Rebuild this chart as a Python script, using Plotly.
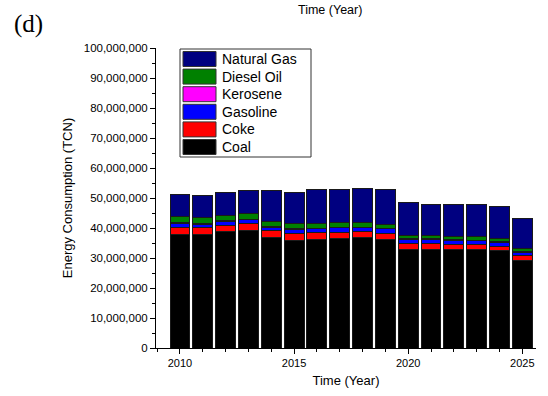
import plotly.graph_objects as go

# ---- data (values in millions of TCN) ----
years = list(range(2010, 2026))
coal = [38.0, 37.7, 38.7, 39.1, 36.8, 35.9, 36.2, 36.5, 36.7, 36.3, 33.0, 33.0, 33.0, 32.8, 32.4, 29.3]
coke = [2.2, 2.4, 2.1, 2.4, 2.3, 2.3, 2.2, 2.1, 2.1, 1.9, 1.8, 1.7, 1.6, 1.6, 1.6, 1.4]
gasoline = [1.4, 1.1, 1.4, 1.2, 1.1, 1.4, 1.3, 1.5, 1.3, 1.6, 1.4, 1.5, 1.4, 1.4, 1.3, 1.3]
kerosene = [0.3, 0.3, 0.2, 0.2, 0.2, 0.2, 0.2, 0.2, 0.2, 0.2, 0.2, 0.2, 0.2, 0.2, 0.2, 0.2]
diesel = [1.8, 1.9, 1.9, 2.0, 1.9, 1.7, 1.7, 1.5, 1.6, 1.3, 1.0, 1.0, 1.0, 1.1, 1.1, 0.9]
natural_gas = [7.5, 7.6, 7.5, 7.5, 10.3, 10.3, 11.1, 11.1, 11.4, 11.5, 11.0, 10.6, 10.8, 10.7, 10.6, 10.1]

series_names = ["Coal", "Coke", "Gasoline", "Kerosene", "Diesel Oil", "Natural Gas"]
series_values = [coal, coke, gasoline, kerosene, diesel, natural_gas]
series_colors = ["#000000", "#FF0000", "#0000FF", "#FF00FF", "#008000", "#000080"]

y_tick_vals = [i * 10_000_000 for i in range(11)]
x_tick_vals = [2010, 2015, 2020, 2025]

W, H = 548, 396
L, R, T, B = 156, 12, 48, 48
PW, PH = W - L - R, H - T - B


def px_x(px):
    return (px - L) / PW


def px_y(py):
    return (H - B - py) / PH


fig = go.Figure()
for name, vals, col in zip(series_names, series_values, series_colors):
    fig.add_trace(go.Bar(
        x=years, y=[v * 1e6 for v in vals], name=name,
        marker=dict(color=col, line=dict(color="#1a1a1a", width=1)),
        showlegend=False,
    ))

font = "Arial, Liberation Sans, sans-serif"

# ---- custom legend (box with wide swatches) ----
shapes = []
annotations = []
box_l, box_r, box_t, box_b = 180, 311, 49, 157
shapes.append(dict(type="rect", xref="paper", yref="paper",
                   x0=px_x(box_l), x1=px_x(box_r), y0=px_y(box_b), y1=px_y(box_t),
                   line=dict(color="#333333", width=1), fillcolor="white", layer="above"))
legend_order = list(reversed(range(len(series_names))))
row_h = 17.6
for i, idx in enumerate(legend_order):
    top = box_t + 2.5 + i * row_h
    shapes.append(dict(type="rect", xref="paper", yref="paper",
                       x0=px_x(183), x1=px_x(216), y0=px_y(top + 15), y1=px_y(top),
                       line=dict(color="#333333", width=1),
                       fillcolor=series_colors[idx], layer="above"))
    annotations.append(dict(text=series_names[idx], xref="paper", yref="paper",
                            x=px_x(220), y=px_y(top + 7.5), xanchor="left", yanchor="middle",
                            showarrow=False, font=dict(family=font, size=14, color="black")))

annotations.append(dict(text="(d)", xref="paper", yref="paper", x=px_x(12), y=px_y(24),
                        xanchor="left", yanchor="middle", showarrow=False,
                        font=dict(family="Liberation Serif, Times New Roman, serif", size=25, color="black")))
annotations.append(dict(text="Time (Year)", xref="paper", yref="paper", x=px_x(330), y=px_y(1),
                        xanchor="center", yanchor="top", showarrow=False,
                        font=dict(family=font, size=12.5, color="black")))

fig.update_layout(
    width=W, height=H,
    margin=dict(l=L, r=R, t=T, b=B, pad=0),
    paper_bgcolor="white", plot_bgcolor="white",
    barmode="stack", bargap=0.13,
    showlegend=False,
    font=dict(family=font, color="black"),
    shapes=shapes, annotations=annotations,
    xaxis=dict(
        range=[2008.95, 2025.6], tickvals=x_tick_vals, ticktext=[str(v) for v in x_tick_vals],
        ticks="outside", ticklen=5, tickcolor="black", showline=True, linecolor="black",
        linewidth=1, showgrid=False, zeroline=False, tickfont=dict(size=11),
        minor=dict(dtick=1, tick0=2010, ticks="outside", ticklen=3, tickcolor="black"),
        title=dict(text="Time (Year)", font=dict(size=13), standoff=7),
    ),
    yaxis=dict(
        range=[0, 100_000_000], tickvals=y_tick_vals, tickformat=",d",
        ticks="outside", ticklen=5, tickcolor="black", showline=True, linecolor="black",
        linewidth=1, showgrid=False, zeroline=False, tickfont=dict(size=11.5),
        minor=dict(dtick=5_000_000, ticks="outside", ticklen=3, tickcolor="black"),
        title=dict(text="Energy Consumption (TCN)", font=dict(size=13), standoff=8),
    ),
)

fig.write_html("out.html")
